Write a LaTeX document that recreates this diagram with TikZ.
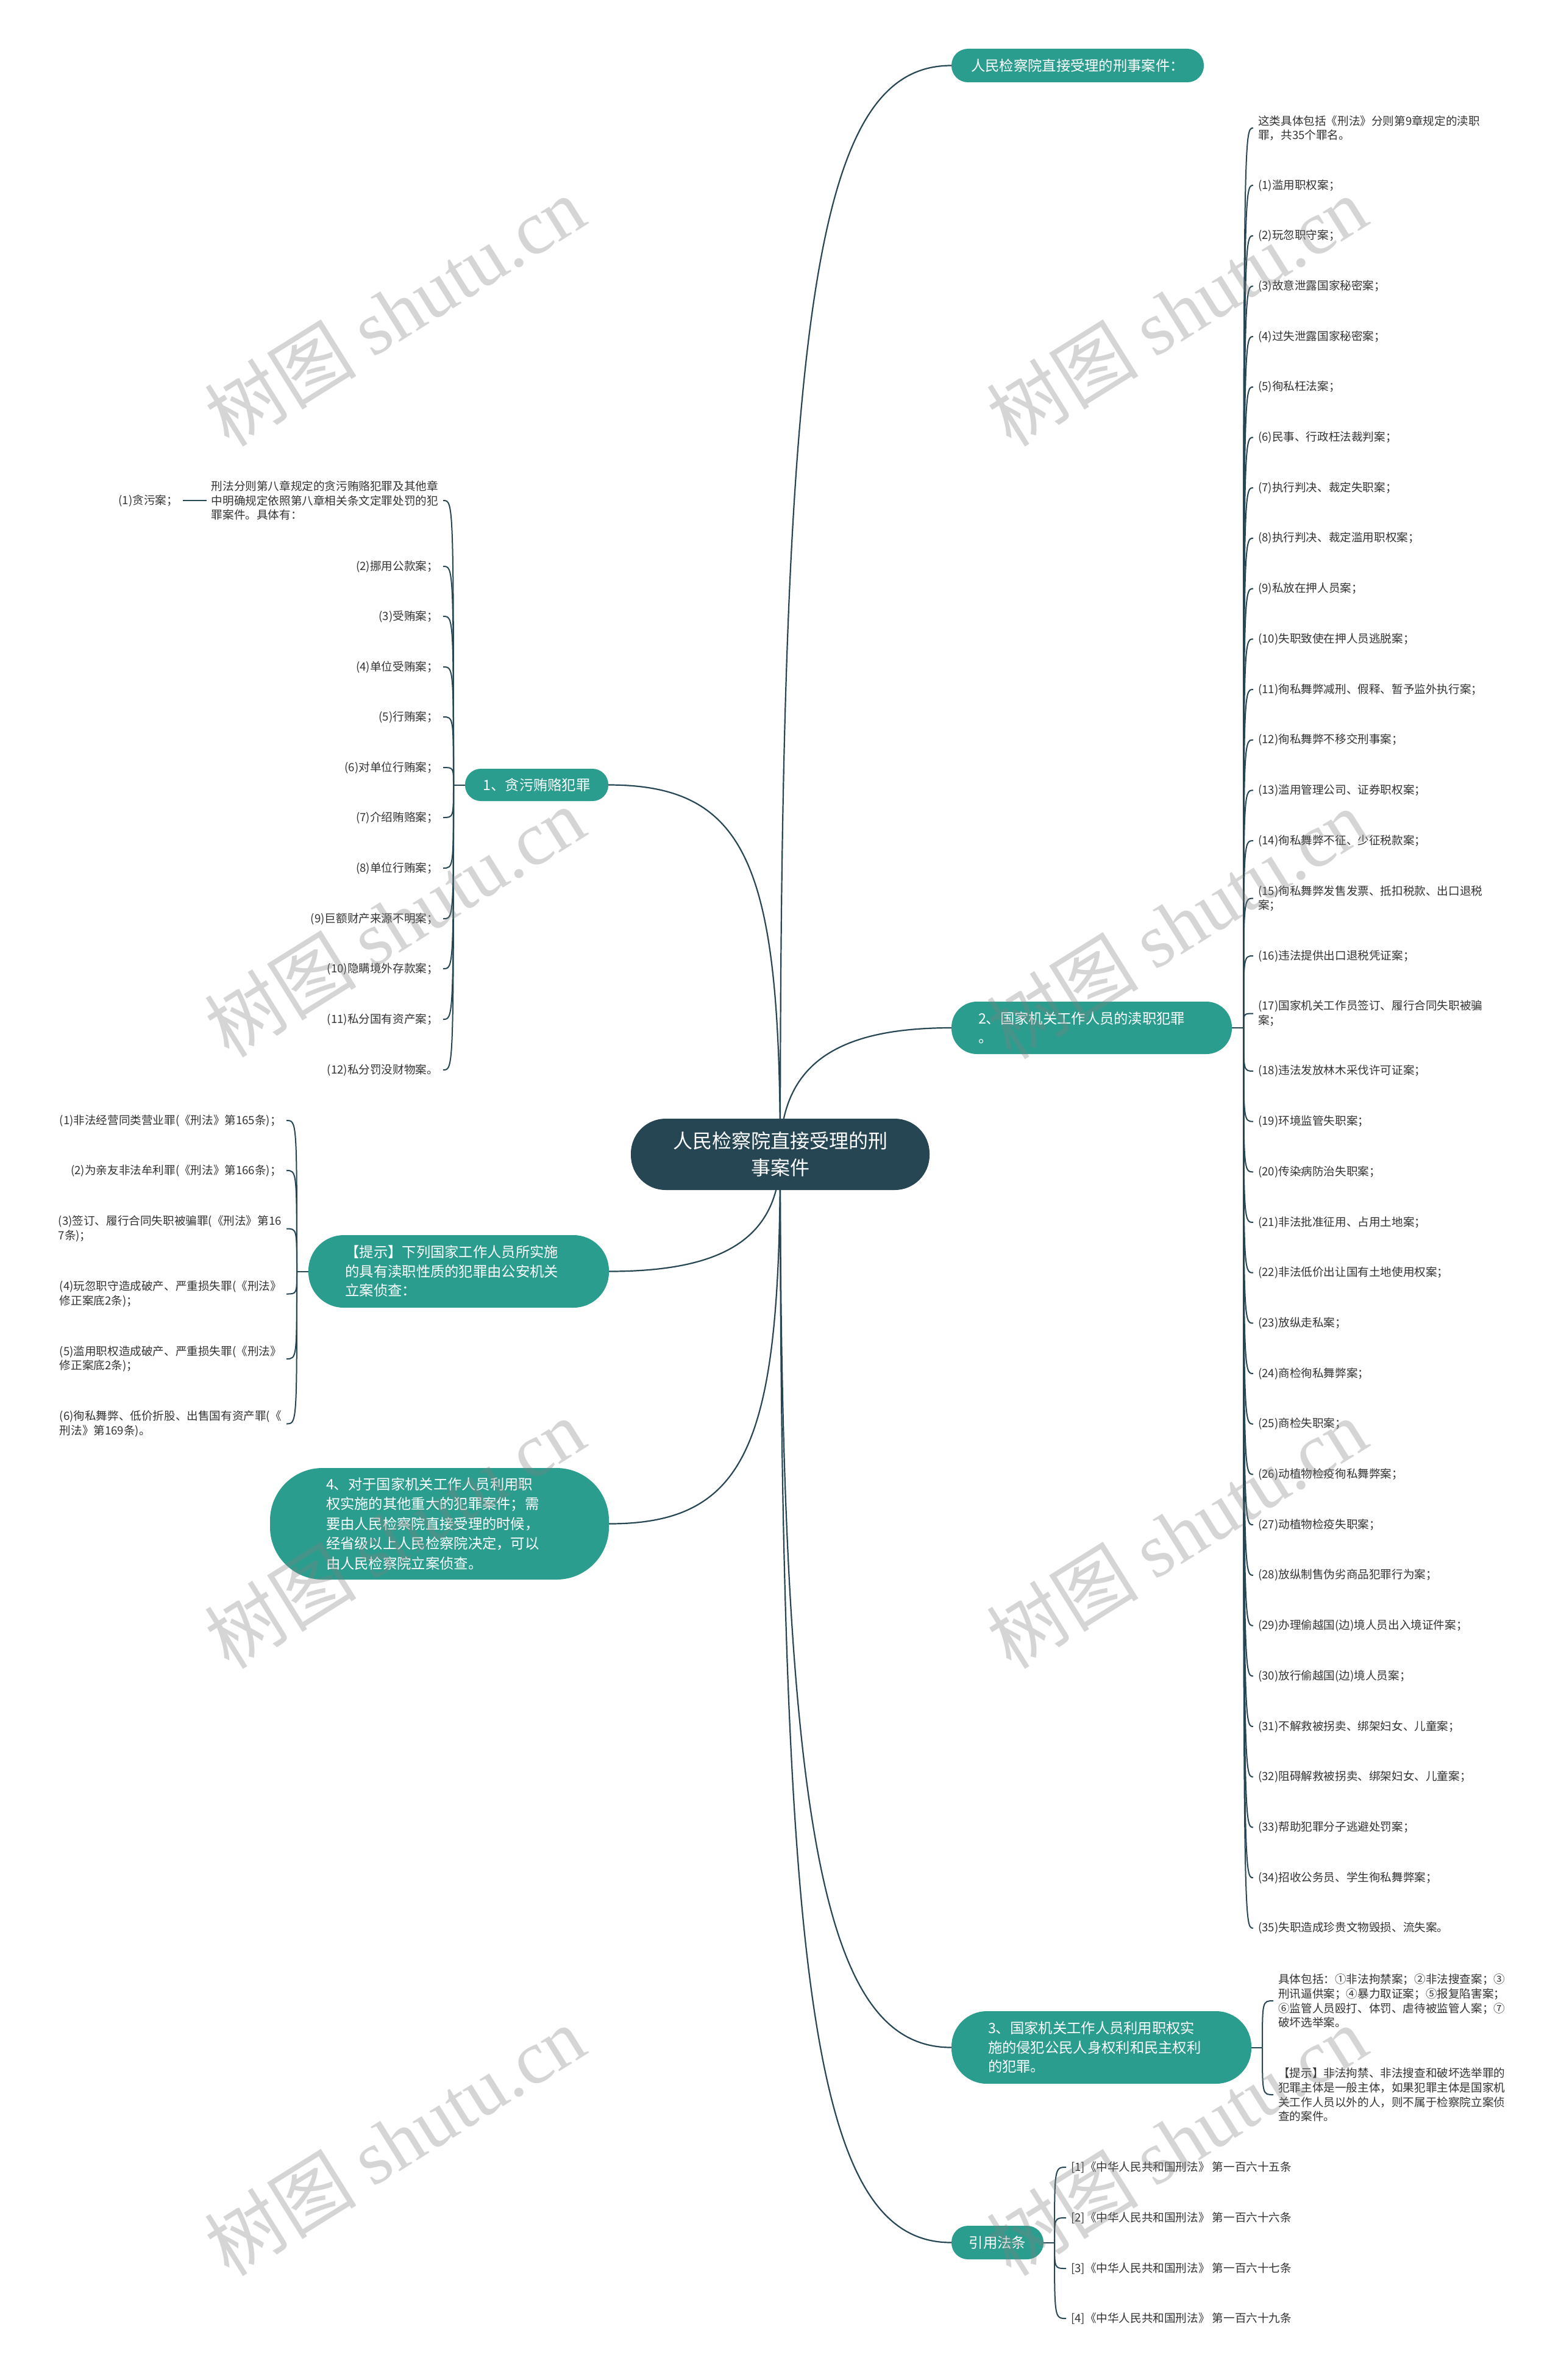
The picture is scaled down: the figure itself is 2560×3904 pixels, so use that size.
\documentclass[tikz,border=0pt]{standalone}
\usepackage{fontspec}
\setmainfont{Noto Sans CJK SC}
\newfontfamily\wmlatin{Liberation Serif}
\newfontfamily\wmcjk{Noto Sans CJK SC}
\definecolor{teal1}{HTML}{2A9D8F}
\definecolor{dark1}{HTML}{264653}
\definecolor{txt}{HTML}{333333}
\pgfdeclarelayer{bg}
\pgfsetlayers{bg,main}
\begin{document}
\begin{tikzpicture}[x=1pt,y=-1pt,
  link/.style={draw=dark1,line width=2.2pt},
  sublink/.style={draw=dark1,line width=2pt},
  hubnode/.style={fill=dark1,text=white,font=\fontsize{32}{44}\selectfont,align=center,inner sep=0pt,minimum width=490pt,minimum height=117pt,rounded corners=57pt},
  branch/.style={fill=teal1,text=white,font=\fontsize{23.3}{31.5}\selectfont,inner sep=0pt},
  wide/.style={text width=372pt,align=left},
  leaf/.style={inner xsep=8pt,inner ysep=3pt,align=left,text=txt,font=\fontsize{18.6}{23.8}\selectfont},
  lr/.style={leaf,anchor=west},
  ll/.style={leaf,anchor=east},
  wm/.style={rotate=32,text=gray,opacity=0.33,font=\fontsize{125}{125}\selectfont}]
\useasboundingbox (0,0) rectangle (2560,3904);

% ---------- centre and main branches ----------
\node[hubnode] (c) at (1280,1893.5) {人民检察院直接受理的刑\\事案件};
\node[branch,minimum width=414pt,minimum height=55pt,rounded corners=27pt] (top) at (1768,107.5) {人民检察院直接受理的刑事案件：};
\node[branch,minimum width=235pt,minimum height=53pt,rounded corners=26pt] (n1) at (880.5,1287.5) {1、贪污贿赂犯罪};
\node[branch,wide,minimum width=460pt,minimum height=86pt,rounded corners=42pt] (n2) at (1791,1686) {2、国家机关工作人员的渎职犯罪\\。};
\node[branch,wide,minimum width=493pt,minimum height=119pt,rounded corners=58pt] (tip) at (752.5,2085.5) {【提示】下列国家工作人员所实施\\的具有渎职性质的犯罪由公安机关\\立案侦查：};
\node[branch,wide,minimum width=556pt,minimum height=183pt,rounded corners=86pt,font=\fontsize{23.3}{32.5}\selectfont] (n4) at (721,2499.5) {4、对于国家机关工作人员利用职\\权实施的其他重大的犯罪案件；需\\要由人民检察院直接受理的时候，\\经省级以上人民检察院决定，可以\\由人民检察院立案侦查。};
\node[branch,wide,minimum width=492pt,minimum height=119pt,rounded corners=58pt] (n3) at (1807,3358.5) {3、国家机关工作人员利用职权实\\施的侵犯公民人身权利和民主权利\\的犯罪。};
\node[branch,minimum width=151pt,minimum height=55pt,rounded corners=27pt] (cite) at (1636.5,3678.5) {引用法条};

% ---------- spine points ----------
\coordinate (s1) at (744,1287.5);
\coordinate (s2) at (2040,1686);
\coordinate (s4) at (487,2085.5);
\coordinate (s3) at (2071,3358.5);
\coordinate (s5) at (1730,3678.5);

% ---------- branch 1 leaves ----------
\node[ll] (a0) at (727,821) {刑法分则第八章规定的贪污贿赂犯罪及其他章\\中明确规定依照第八章相关条文定罪处罚的犯\\罪案件。具体有：};
\node[ll] (a1) at (300,821) {(1)贪污案；};
\node[ll] (a2) at (727,929) {(2)挪用公款案；};
\node[ll] (a3) at (727,1011) {(3)受贿案；};
\node[ll] (a4) at (727,1094) {(4)单位受贿案；};
\node[ll] (a5) at (727,1176) {(5)行贿案；};
\node[ll] (a6) at (727,1259) {(6)对单位行贿案；};
\node[ll] (a7) at (727,1341) {(7)介绍贿赂案；};
\node[ll] (a8) at (727,1424) {(8)单位行贿案；};
\node[ll] (a9) at (727,1507) {(9)巨额财产来源不明案；};
\node[ll] (a10) at (727,1589) {(10)隐瞒境外存款案；};
\node[ll] (a11) at (727,1672) {(11)私分国有资产案；};
\node[ll] (a12) at (727,1755) {(12)私分罚没财物案。};

% ---------- tip leaves ----------
\node[ll] (t1) at (470,1838) {(1)非法经营同类营业罪(《刑法》第165条)；};
\node[ll] (t2) at (470,1920) {(2)为亲友非法牟利罪(《刑法》第166条)；};
\node[ll] (t3) at (470,2015.5) {(3)签订、履行合同失职被骗罪(《刑法》第16\\7条)；};
\node[ll] (t4) at (470,2122.5) {(4)玩忽职守造成破产、严重损失罪(《刑法》\\修正案底2条)；};
\node[ll] (t5) at (470,2229) {(5)滥用职权造成破产、严重损失罪(《刑法》\\修正案底2条)；};
\node[ll] (t6) at (470,2335.5) {(6)徇私舞弊、低价折股、出售国有资产罪(《\\刑法》第169条)。};

% ---------- branch 2 leaves ----------
\node[lr] (r0) at (2056,210) {这类具体包括《刑法》分则第9章规定的渎职\\罪，共35个罪名。};
\node[lr] (r1) at (2056,304) {(1)滥用职权案；};
\node[lr] (r2) at (2056,386.7) {(2)玩忽职守案；};
\node[lr] (r3) at (2056,469.4) {(3)故意泄露国家秘密案；};
\node[lr] (r4) at (2056,552.1) {(4)过失泄露国家秘密案；};
\node[lr] (r5) at (2056,634.8) {(5)徇私枉法案；};
\node[lr] (r6) at (2056,717.5) {(6)民事、行政枉法裁判案；};
\node[lr] (r7) at (2056,800.2) {(7)执行判决、裁定失职案；};
\node[lr] (r8) at (2056,882.9) {(8)执行判决、裁定滥用职权案；};
\node[lr] (r9) at (2056,965.6) {(9)私放在押人员案；};
\node[lr] (r10) at (2056,1048.3) {(10)失职致使在押人员逃脱案；};
\node[lr] (r11) at (2056,1131) {(11)徇私舞弊减刑、假释、暂予监外执行案；};
\node[lr] (r12) at (2056,1213.7) {(12)徇私舞弊不移交刑事案；};
\node[lr] (r13) at (2056,1296.4) {(13)滥用管理公司、证券职权案；};
\node[lr] (r14) at (2056,1379.1) {(14)徇私舞弊不征、少征税款案；};
\node[lr] (r15) at (2056,1473.6) {(15)徇私舞弊发售发票、抵扣税款、出口退税\\案；};
\node[lr] (r16) at (2056,1568) {(16)违法提供出口退税凭证案；};
\node[lr] (r17) at (2056,1662.5) {(17)国家机关工作员签订、履行合同失职被骗\\案；};
\node[lr] (r18) at (2056,1756.9) {(18)违法发放林木采伐许可证案；};
\node[lr] (r19) at (2056,1839.6) {(19)环境监管失职案；};
\node[lr] (r20) at (2056,1922.3) {(20)传染病防治失职案；};
\node[lr] (r21) at (2056,2005) {(21)非法批准征用、占用土地案；};
\node[lr] (r22) at (2056,2087.7) {(22)非法低价出让国有土地使用权案；};
\node[lr] (r23) at (2056,2170.4) {(23)放纵走私案；};
\node[lr] (r24) at (2056,2253.1) {(24)商检徇私舞弊案；};
\node[lr] (r25) at (2056,2335.8) {(25)商检失职案；};
\node[lr] (r26) at (2056,2418.5) {(26)动植物检疫徇私舞弊案；};
\node[lr] (r27) at (2056,2501.2) {(27)动植物检疫失职案；};
\node[lr] (r28) at (2056,2583.9) {(28)放纵制售伪劣商品犯罪行为案；};
\node[lr] (r29) at (2056,2666.6) {(29)办理偷越国(边)境人员出入境证件案；};
\node[lr] (r30) at (2056,2749.3) {(30)放行偷越国(边)境人员案；};
\node[lr] (r31) at (2056,2832) {(31)不解救被拐卖、绑架妇女、儿童案；};
\node[lr] (r32) at (2056,2914.7) {(32)阻碍解救被拐卖、绑架妇女、儿童案；};
\node[lr] (r33) at (2056,2997.4) {(33)帮助犯罪分子逃避处罚案；};
\node[lr] (r34) at (2056,3080.1) {(34)招收公务员、学生徇私舞弊案；};
\node[lr] (r35) at (2056,3162.8) {(35)失职造成珍贵文物毁损、流失案。};

% ---------- branch 3 leaves ----------
\node[lr] (p1) at (2089,3282) {具体包括：①非法拘禁案；②非法搜查案；③\\刑讯逼供案；④暴力取证案；⑤报复陷害案；\\⑥监管人员殴打、体罚、虐待被监管人案；⑦\\破坏选举案。};
\node[lr] (p2) at (2089,3436) {【提示】非法拘禁、非法搜查和破坏选举罪的\\犯罪主体是一般主体，如果犯罪主体是国家机\\关工作人员以外的人，则不属于检察院立案侦\\查的案件。};

% ---------- citations ----------
\node[lr] (q1) at (1749,3555) {[1]《中华人民共和国刑法》 第一百六十五条};
\node[lr] (q2) at (1749,3638) {[2]《中华人民共和国刑法》 第一百六十六条};
\node[lr] (q3) at (1749,3721) {[3]《中华人民共和国刑法》 第一百六十七条};
\node[lr] (q4) at (1749,3803) {[4]《中华人民共和国刑法》 第一百六十九条};

% ---------- connectors (behind) ----------
\begin{pgfonlayer}{bg}
\fill[white] (0,0) rectangle (2560,3904);
\draw[link] (c.center) .. controls +(0,-1400) and +(-220,0) .. (top.west);
\draw[link] (c.center) .. controls +(0,-470) and +(230,0) .. (n1.east);
\draw[link] (c.center) .. controls +(0,-153) and +(-181,0) .. (n2.west);
\draw[link] (c.center) .. controls +(0,142) and +(181,0) .. (tip.east);
\draw[link] (c.center) .. controls +(0,470) and +(230,0) .. (n4.east);
\draw[link] (c.center) .. controls +(0,1150) and +(-200,0) .. (n3.west);
\draw[link] (c.center) .. controls +(0,1400) and +(-220,0) .. (cite.west);

\draw[sublink] (n1.west) -- (s1);
\foreach \n in {a0,a2,a3,a4,a5,a6,a7,a8,a9,a10,a11,a12}
  \draw[sublink] (s1) .. controls (s1 |- \n.east) and (s1 |- \n.east) .. (\n.east);
\draw[sublink] (a0.west) -- (a1.east);

\draw[sublink] (tip.west) -- (s4);
\foreach \n in {t1,t2,t3,t4,t5,t6}
  \draw[sublink] (s4) .. controls (s4 |- \n.east) and (s4 |- \n.east) .. (\n.east);

\draw[sublink] (n2.east) -- (s2);
\foreach \n in {r0,r1,r2,r3,r4,r5,r6,r7,r8,r9,r10,r11,r12,r13,r14,r15,r16,r17,r18,r19,r20,r21,r22,r23,r24,r25,r26,r27,r28,r29,r30,r31,r32,r33,r34,r35}
  \draw[sublink] (s2) .. controls (s2 |- \n.west) and (s2 |- \n.west) .. (\n.west);

\draw[sublink] (n3.east) -- (s3);
\foreach \n in {p1,p2}
  \draw[sublink] (s3) .. controls (s3 |- \n.west) and (s3 |- \n.west) .. (\n.west);

\draw[sublink] (cite.east) -- (s5);
\foreach \n in {q1,q2,q3,q4}
  \draw[sublink] (s5) .. controls (s5 |- \n.west) and (s5 |- \n.west) .. (\n.west);
\end{pgfonlayer}

% ---------- watermark ----------
\foreach \i/\x/\y in {1/647/510,2/1930/510,3/647/1512,4/1930/1515,5/647/2515,6/1930/2515,7/647/3511,8/1930/3511}
  \node[wm] (wm\i) at (\x,\y) {\wmcjk 树图 \wmlatin shutu.cn};
\end{tikzpicture}
\end{document}
